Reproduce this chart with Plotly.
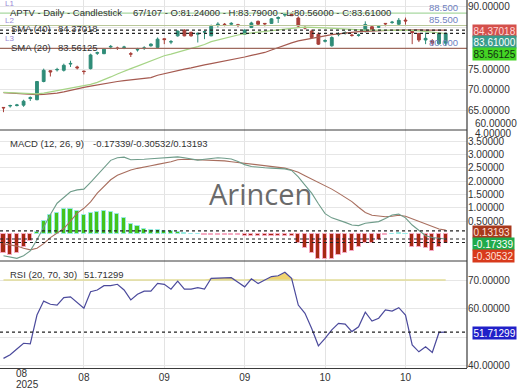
import plotly.graph_objects as go

# ---------------- data ----------------
bar_index = list(range(67))
opens = [65.75, 66.1, 66.2, 66.3, 67.9, 67.6, 72.0, 74.6, 74.8, 74.7, 76.2, 75.5, 74.5, 75.1, 78.8, 78.7, 80.3, 80.1, 80.2, 78.7,
         79.6, 80.0, 80.6, 80.2, 82.3, 81.5, 83.0, 84.4, 83.85, 83.4, 83.9, 83.0, 85.6, 85.8, 85.8, 85.7, 83.4, 85.0, 86.5, 86.0,
         86.0, 87.2, 88.0, 88.35, 87.3, 85.0, 84.15, 83.4, 81.7, 80.6, 83.3, 83.7, 83.2, 83.1, 84.15, 85.2, 85.1, 86.0, 86.2, 85.8,
         86.8, 84.1, 83.6, 82.0, 81.8, 81.1, 81.24]
highs = [65.8, 66.4, 66.6, 67.6, 68.4, 72.1, 75.1, 74.7, 75.3, 76.3, 77.0, 75.8, 74.6, 78.7, 79.2, 79.9, 80.8, 80.4, 80.6, 79.1,
         80.1, 80.5, 81.2, 82.6, 82.4, 82.0, 84.3, 84.6, 84.0, 83.8, 84.2, 85.7, 86.3, 86.1, 86.3, 85.9, 84.6, 86.4, 86.7, 86.1,
         87.3, 87.7, 88.5, 88.6, 87.7, 85.4, 84.5, 83.85, 82.2, 82.9, 83.85, 84.1, 83.5, 83.5, 86.5, 85.4, 85.5, 86.1, 86.6, 87.3,
         87.4, 84.3, 83.7, 83.8, 82.2, 83.8, 83.79]
lows = [64.6, 65.7, 66.0, 65.9, 67.3, 67.5, 71.8, 73.2, 74.4, 74.4, 75.5, 74.9, 73.7, 74.9, 78.4, 78.6, 79.8, 79.6, 79.8, 77.9,
        79.2, 79.6, 80.4, 80.1, 81.0, 81.0, 82.8, 82.9, 82.8, 81.4, 82.2, 82.9, 85.0, 85.3, 85.5, 85.1, 83.2, 84.9, 85.6, 85.3,
        85.9, 86.1, 87.6, 87.8, 85.0, 84.55, 82.4, 80.8, 81.4, 80.4, 82.9, 83.3, 82.8, 82.8, 83.8, 84.2, 84.9, 85.3, 85.9, 85.5,
        85.7, 81.0, 81.5, 81.0, 80.6, 80.9, 80.56]
closes = [65.65, 66.2, 66.35, 67.25, 68.1, 72.0, 74.7, 74.3, 74.9, 75.9, 76.35, 75.3, 74.4, 78.4, 78.95, 79.8, 80.45, 79.95, 80.3, 78.6,
          79.7, 80.1, 81.0, 82.2, 82.1, 81.6, 84.15, 83.0, 83.0, 83.6, 84.0, 85.3, 85.8, 85.7, 86.0, 85.5, 84.4, 86.1, 85.8, 85.9,
          87.1, 87.4, 88.15, 87.85, 85.35, 84.9, 82.6, 81.0, 81.85, 82.6, 83.4, 83.8, 83.1, 83.2, 85.75, 84.4, 85.2, 85.9, 86.3, 86.75,
          86.6, 83.8, 82.0, 82.4, 81.25, 83.6, 83.61]
sma20 = [69.4, 69.3, 69.2, 69.1, 69.0, 69.0, 69.2, 69.5, 69.8, 70.1, 70.4, 70.6, 70.9, 71.3, 71.8, 72.4, 73.1, 73.8, 74.5, 75.1,
         75.7, 76.3, 76.9, 77.6, 78.2, 78.6, 79.1, 79.6, 80.0, 80.4, 80.9, 81.6, 82.0, 82.5, 82.9, 83.2, 83.5, 83.7, 83.9, 84.1,
         84.3, 84.5, 84.7, 84.9, 85.0, 85.1, 85.1, 85.0, 84.9, 84.8, 84.7, 84.6, 84.5, 84.4, 84.4, 84.4, 84.4, 84.4, 84.4, 84.4,
         84.4, 84.3, 84.2, 84.0, 83.8, 83.7, 83.56125]
sma40 = [69.3, 69.2, 69.1, 69.0, 68.9, 68.8, 68.9, 69.0, 69.2, 69.5, 69.9, 70.3, 70.6, 70.9, 71.2, 71.5, 71.8, 72.0, 72.2, 72.4,
         72.6, 72.8, 72.95, 73.5, 73.9, 74.3, 74.7, 75.0, 75.3, 75.7, 76.0, 76.3, 76.6, 77.0, 77.3, 77.6, 77.9, 78.3, 78.6, 79.0,
         79.6, 80.2, 80.8, 81.3, 81.8, 82.1, 82.5, 82.8, 83.0, 83.3, 83.5, 83.7, 83.85, 84.0, 84.1, 84.2, 84.25, 84.3, 84.35, 84.4,
         84.45, 84.45, 84.45, 84.4, 84.4, 84.38, 84.37018]
macd = [-0.80, -0.86, -0.90, -0.80, -0.62, -0.20, 0.29, 0.75, 1.17, 1.38, 1.60, 1.67, 1.70, 1.95, 2.22, 2.50, 2.78, 2.88, 2.90, 2.80,
        2.80, 2.82, 2.84, 2.86, 2.87, 2.89, 2.91, 2.88, 2.83, 2.79, 2.82, 2.86, 2.88, 2.86, 2.83, 2.74, 2.62, 2.55, 2.52, 2.50,
        2.49, 2.48, 2.46, 2.40, 2.16, 1.85, 1.55, 1.15, 0.78, 0.62, 0.54, 0.45, 0.35, 0.33, 0.42, 0.45, 0.48, 0.60, 0.73, 0.76,
        0.62, 0.35, 0.15, -0.05, -0.12, -0.15, -0.17339]
signal = [-0.35, -0.40, -0.44, -0.52, -0.58, -0.52, -0.35, -0.12, 0.05, 0.22, 0.50, 0.80, 0.98, 1.22, 1.55, 1.80, 2.05, 2.22, 2.33, 2.42,
          2.48, 2.54, 2.58, 2.63, 2.67, 2.73, 2.80, 2.82, 2.81, 2.80, 2.80, 2.79, 2.78, 2.76, 2.73, 2.70, 2.66, 2.62, 2.60, 2.57,
          2.55, 2.52, 2.49, 2.42, 2.33, 2.20, 2.08, 1.95, 1.85, 1.70, 1.55, 1.38, 1.23, 1.02, 0.82, 0.72, 0.68, 0.66, 0.68, 0.72,
          0.68, 0.58, 0.50, 0.38, 0.28, 0.20, 0.16]
hist = [-0.70, -0.76, -0.70, -0.49, -0.26, 0.09, 0.50, 0.71, 0.80, 0.97, 0.97, 0.87, 0.71, 0.80, 0.84, 0.87, 0.84, 0.76, 0.60, 0.39,
        0.33, 0.21, 0.18, 0.18, 0.14, 0.11, 0.09, 0.05, 0.02, 0.01, -0.03, -0.02, -0.02, -0.02, -0.02, -0.03, -0.06, -0.06, -0.06, -0.06,
        -0.06, -0.05, -0.05, -0.06, -0.33, -0.53, -0.70, -0.92, -0.92, -0.92, -0.76, -0.70, -0.64, -0.46, -0.33, -0.33, -0.20, -0.02, 0.03, 0.06,
        0.03, -0.46, -0.46, -0.53, -0.64, -0.46, -0.33]
rsi = [42.5, 43.8, 45.8, 47.8, 47.6, 57.7, 62.6, 61.5, 61.2, 63.8, 64.1, 62.0, 60.1, 65.9, 66.5, 68.0, 68.0, 68.5, 66.5, 63.0,
       65.0, 66.1, 66.1, 68.8, 68.5, 66.8, 69.6, 66.8, 66.8, 67.3, 66.8, 70.6, 70.6, 70.7, 70.8, 69.2, 67.6, 70.4, 68.8, 70.0,
       71.2, 71.5, 72.7, 70.6, 61.2, 58.3, 53.0, 46.9, 49.5, 52.5, 54.8, 54.5, 51.9, 53.6, 58.7, 55.6, 56.6, 59.5, 59.1, 60.3,
       57.7, 47.2, 44.8, 46.6, 44.6, 51.6, 51.71299]

level_values = [88.5, 85.5, 80.0]
level_names = ["L1", "L2", "L3"]
level_texts = ["88.500", "85.500", "80.000"]
x_tick_pos = [12, 24, 36, 48, 60]
x_tick_text = ["08", "09", "09", "10", "10"]
price_ticks = [65, 70, 75, 80, 85, 90]
price_tick_text = ["65.00000", "70.00000", "75.00000", "", "", "90.00000"]   # 80 / 85 hidden behind value boxes
macd_ticks = [0.5, 1.0, 1.5, 2.0, 2.5, 3.0, 3.5]
rsi_ticks = [40, 50, 60, 70]
rsi_tick_text = ["40.00000", "", "60.00000", "70.00000"]                  # 50 hidden behind value box

last_close = 83.61
last_sma40 = 84.37018
last_sma20 = 83.56125
last_macd, last_signal, last_hist = -0.17339, -0.30532, 0.13193
last_rsi = 51.71299
rsi_upper = 70

# ---------------- layout geometry (pixels) ----------------
W, H = 520, 390
PW, PH = 467, 368
def px(x):
    return x / PW
def py(y):
    return 1 - y / PH

FONT = "Liberation Sans, Arial, sans-serif"
UP, DOWN = "#2f8c78", "#a8403a"

fig = go.Figure()

# price panel
fig.add_trace(go.Scatter(x=bar_index, y=sma40, mode="lines", line=dict(color="#a55a50", width=1.2), yaxis="y", hoverinfo="skip"))
fig.add_trace(go.Scatter(x=bar_index, y=sma20, mode="lines", line=dict(color="#a6d486", width=1.2), yaxis="y", hoverinfo="skip"))
fig.add_trace(go.Candlestick(x=bar_index, open=opens, high=highs, low=lows, close=closes, yaxis="y",
                             increasing=dict(line=dict(color=UP, width=1), fillcolor=UP),
                             decreasing=dict(line=dict(color=DOWN, width=1), fillcolor=DOWN),
                             whiskerwidth=0))

# MACD panel
hist_colors = ["#44c41c" if v >= 0 else "#a52a12" for v in hist]
hist_lines = ["rgba(150,235,235,0.9)" if v >= 0 else "rgba(250,170,200,0.9)" for v in hist]
fig.add_trace(go.Bar(x=bar_index, y=hist, yaxis="y2", width=0.62,
                     marker=dict(color=hist_colors, line=dict(color=hist_lines, width=1))))
fig.add_trace(go.Scatter(x=bar_index, y=signal, mode="lines", line=dict(color="#a86e5e", width=1.1), yaxis="y2"))
fig.add_trace(go.Scatter(x=bar_index, y=macd, mode="lines", line=dict(color="#6f9c8a", width=1.1), yaxis="y2"))

# RSI panel
fig.add_trace(go.Scatter(x=bar_index, y=[rsi_upper] * len(bar_index), mode="lines",
                         line=dict(color="#e2dc98", width=1.5), yaxis="y3"))
fig.add_trace(go.Scatter(x=bar_index, y=[max(v, rsi_upper) for v in rsi], mode="lines", fill="tonexty",
                         fillcolor="#f0d470", line=dict(width=0), yaxis="y3"))
fig.add_trace(go.Scatter(x=bar_index, y=rsi, mode="lines", line=dict(color="#4b4a9c", width=1.2), yaxis="y3"))

shapes = []
level_colors = ["#a8d8a0", "#b9c79a", "#9e6a5e"]
for v, c in zip(level_values, level_colors):
    shapes.append(dict(type="line", xref="paper", x0=0, x1=1, yref="y", y0=v, y1=v, line=dict(color=c, width=1.2)))
for v in [last_sma40, last_close, last_sma20]:
    shapes.append(dict(type="line", xref="paper", x0=0, x1=1, yref="y", y0=v, y1=v, line=dict(color="#222", width=1.2, dash="dot")))
for v in [last_hist, last_macd, last_signal]:
    shapes.append(dict(type="line", xref="paper", x0=0, x1=1, yref="y2", y0=v, y1=v, line=dict(color="#222", width=1.2, dash="dot")))
shapes.append(dict(type="line", xref="paper", x0=0, x1=1, yref="y3", y0=last_rsi, y1=last_rsi, line=dict(color="#222", width=1.2, dash="dot")))
for yy in [130, 261]:
    shapes.append(dict(type="line", xref="paper", x0=0, x1=1, yref="paper", y0=py(yy), y1=py(yy), line=dict(color="#3a3a3a", width=1)))
shapes.append(dict(type="line", xref="paper", x0=1, x1=1, yref="paper", y0=0, y1=1, line=dict(color="#3a3a3a", width=1.2)))

ann = []
def text(x, y, s, size=9.5, color="#333", **kw):
    d = dict(x=px(x), y=py(y), xref="paper", yref="paper", text=s, showarrow=False, xanchor="left", yanchor="middle",
             font=dict(family=FONT, size=size, color=color))
    d.update(kw)
    ann.append(d)

# small level names first so the title is drawn over them
for name, yy in zip(level_names, [3.5, 21, 38]):
    text(3, yy, name, size=8, color="#9a8ad8")
text(8, 12, "APTV - Daily - Candlestick")
text(131, 12, "67/107 - O:81.24000 - H:83.79000 - L:80.56000 - C:83.61000")
text(9, 29, "SMA (40)")
text(56, 29, f"{last_sma40:.5f}")
text(9, 47.5, "SMA (20)")
text(56, 47.5, f"{last_sma20:.5f}")
text(8, 143, "MACD (12, 26, 9)")
text(91, 143, f"{last_macd:.5f}/{last_signal:.5f}/{last_hist:.5f}")
text(8, 274, "RSI (20, 70, 30)")
text(82, 274, f"{last_rsi:.5f}")
for lbl, ly in zip(level_texts, [7, 19.5, 42.5]):
    text(427, ly, lbl, size=9.5, color="#6f7fc0")
ann.append(dict(x=px(260), y=py(193), xref="paper", yref="paper", text="Arincen", showarrow=False,
                font=dict(family="Open Sans, sans-serif", size=29, color="#6a6a6a")))
text(473, 123, "60.00000", size=10)
text(473, 133, "4.00000", size=10)
ann.append(dict(x=px(13.5), y=py(373.5), xref="paper", yref="paper", text="08", showarrow=False,
                font=dict(family=FONT, size=10, color="#333"), yanchor="middle"))
ann.append(dict(x=px(13.5), y=py(384), xref="paper", yref="paper", text="2025", showarrow=False,
                font=dict(family=FONT, size=10, color="#333"), yanchor="middle"))

def box(yy, s, bg, fg):
    ann.append(dict(x=px(471.5), y=py(yy), xref="paper", yref="paper", text=s, showarrow=False,
                    xanchor="left", yanchor="middle", bgcolor=bg, borderpad=0.5,
                    font=dict(family=FONT, size=10, color=fg)))
box(31, f"{last_sma40:.5f}", "#d4504c", "#ffd8d8")
box(42.5, f"{last_close:.5f}", "#3a9c8c", "#ffffff")
box(54, f"{last_sma20:.5f}", "#44d424", "#103010")
box(231.5, f"{last_hist:.5f}", "#a8381c", "#ffe0d8")
box(244, f"{last_macd:.5f}", "#1faa4a", "#ffffff")
box(256, f"{last_signal:.5f}", "#d83a1c", "#ffe0d8")
box(333, f"{last_rsi:.5f}", "#2020c8", "#ffffff")

axis_common = dict(side="right", showgrid=True, gridcolor="#e6e6e6", gridwidth=1, zeroline=False, ticks="",
                   tickfont=dict(family=FONT, size=10, color="#333"), anchor="x", fixedrange=True)

fig.update_layout(
    width=W, height=H, margin=dict(l=0, r=W - PW, t=0, b=H - PH),
    paper_bgcolor="white", plot_bgcolor="white", showlegend=False, bargap=0,
    boxgap=0.4,
    xaxis=dict(range=[-0.52, 69.18], tickvals=x_tick_pos, ticktext=x_tick_text, showgrid=True, gridcolor="#e3e3e3",
               zeroline=False, ticks="", showline=True, linecolor="#3a3a3a", linewidth=1, anchor="y3",
               rangeslider=dict(visible=False), tickfont=dict(family=FONT, size=10, color="#333")),
    yaxis=dict(domain=[py(130), 1], range=[60.31, 91.64], tickvals=price_ticks, ticktext=price_tick_text, **axis_common),
    yaxis2=dict(domain=[py(261), py(130)], range=[-1.0, 3.92], tickvals=macd_ticks, tickformat=".5f", **axis_common),
    yaxis3=dict(domain=[0, py(261)], range=[39.12, 76.67], tickvals=rsi_ticks, ticktext=rsi_tick_text, **axis_common),
    shapes=shapes, annotations=ann,
)

fig.write_html("out.html")
